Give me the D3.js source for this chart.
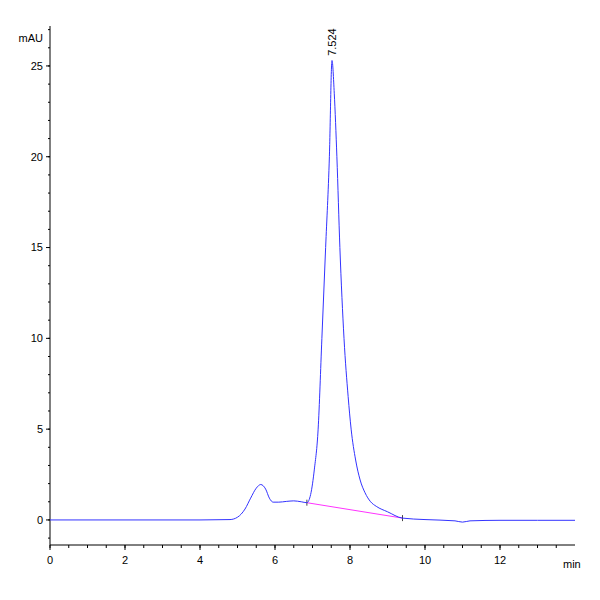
<!DOCTYPE html>
<meta charset="utf-8">
<script src="https://d3js.org/d3.v7.min.js"></script>
<style>body{margin:0;background:#fff}</style>
<div id="chart"></div>
<script>
// chromatogram trace: time (min), signal (mAU)
var times = [0, 2, 4, 4.8, 5.0, 5.2, 5.35, 5.5, 5.62, 5.75, 5.85, 5.95, 6.1, 6.3, 6.5, 6.7, 6.85, 6.95, 7.05, 7.15, 7.25, 7.35, 7.45, 7.52, 7.58, 7.65, 7.73, 7.84, 7.95, 8.03, 8.15, 8.27, 8.4, 8.55, 8.7, 9.0, 9.4, 10, 10.8, 11.0, 11.2, 12, 13, 14];
var values = [0, 0, 0, 0.02, 0.15, 0.6, 1.2, 1.75, 1.95, 1.7, 1.2, 0.98, 0.98, 1.02, 1.05, 1.0, 0.95, 1.4, 2.8, 5, 10, 15, 20, 25.3, 23.5, 20, 15, 10, 6.8, 5, 3.3, 2.2, 1.5, 1.0, 0.75, 0.45, 0.1, 0.02, -0.05, -0.12, -0.05, -0.02, -0.02, -0.02];
var baseTimes = [6.85, 9.4];
var baseValues = [0.95, 0.1];
var peakTime = 7.524, peakLabel = "7.524";
var xTicks = [0, 2, 4, 6, 8, 10, 12];
var yTicks = [0, 5, 10, 15, 20, 25];

var W = 600, H = 600;
var svg = d3.select("#chart").append("svg").attr("width", W).attr("height", H)
  .style("font-family", "Liberation Sans Narrow, Liberation Sans, Arial").style("font-size", "11px");

var x = d3.scaleLinear().domain([0, 14]).range([50, 575]);
var y = d3.scaleLinear().domain([-1.38, 27.2]).range([545, 26]);

// y axis
var ya = svg.append("g").attr("transform", "translate(50,0)");
ya.append("line").attr("y1", y.range()[0]).attr("y2", y.range()[1]).attr("stroke", "#000");
ya.selectAll(".mj").data(yTicks).join("g").each(function (d) {
  var g = d3.select(this);
  g.append("line").attr("x1", -4).attr("x2", 0).attr("y1", y(d)).attr("y2", y(d)).attr("stroke", "#000");
  g.append("text").attr("x", -7).attr("y", y(d)).attr("dy", "0.35em").attr("text-anchor", "end").text(d);
});
ya.selectAll(".mn").data(d3.range(-1, 28)).join("line").attr("x1", -2).attr("x2", 0)
  .attr("y1", d => y(d)).attr("y2", d => y(d)).attr("stroke", "#000");
ya.append("text").attr("x", -7).attr("y", 42).attr("text-anchor", "end").text("mAU");

// x axis
var xa = svg.append("g").attr("transform", "translate(0," + y.range()[0] + ")");
xa.append("line").attr("x1", x(0)).attr("x2", x(14)).attr("stroke", "#000");
xa.selectAll(".mn").data(d3.range(0, 14, 0.5)).join("line").attr("x1", d => x(d)).attr("x2", d => x(d))
  .attr("y1", 0).attr("y2", 3).attr("stroke", "#000");
xa.selectAll(".mj").data(xTicks).join("g").each(function (d) {
  var g = d3.select(this);
  g.append("line").attr("x1", x(d)).attr("x2", x(d)).attr("y1", 0).attr("y2", 5).attr("stroke", "#000");
  g.append("text").attr("x", x(d)).attr("y", 19).attr("text-anchor", "middle").text(d);
});
xa.append("text").attr("x", x(14) - 12).attr("y", 23).text("min");

// baseline
svg.append("path").datum(d3.zip(baseTimes, baseValues)).attr("fill", "none").attr("stroke", "#ff33ff")
  .attr("d", d3.line().x(d => x(d[0])).y(d => y(d[1])));
baseTimes.forEach(function (t, i) {
  svg.append("line").attr("x1", x(t)).attr("x2", x(t)).attr("y1", y(baseValues[i]) - 3).attr("y2", y(baseValues[i]) + 3).attr("stroke", "#444");
});

// trace
svg.append("path").datum(d3.zip(times, values)).attr("fill", "none").attr("stroke", "#3333ff").attr("stroke-width", 1)
  .attr("d", d3.line().curve(d3.curveMonotoneX).x(d => x(d[0])).y(d => y(d[1])));

// peak label
svg.append("text").attr("transform", "translate(" + (x(peakTime) + 4) + "," + (y(25.5) - 1) + ") rotate(-90)")
  .text(peakLabel);
</script>
